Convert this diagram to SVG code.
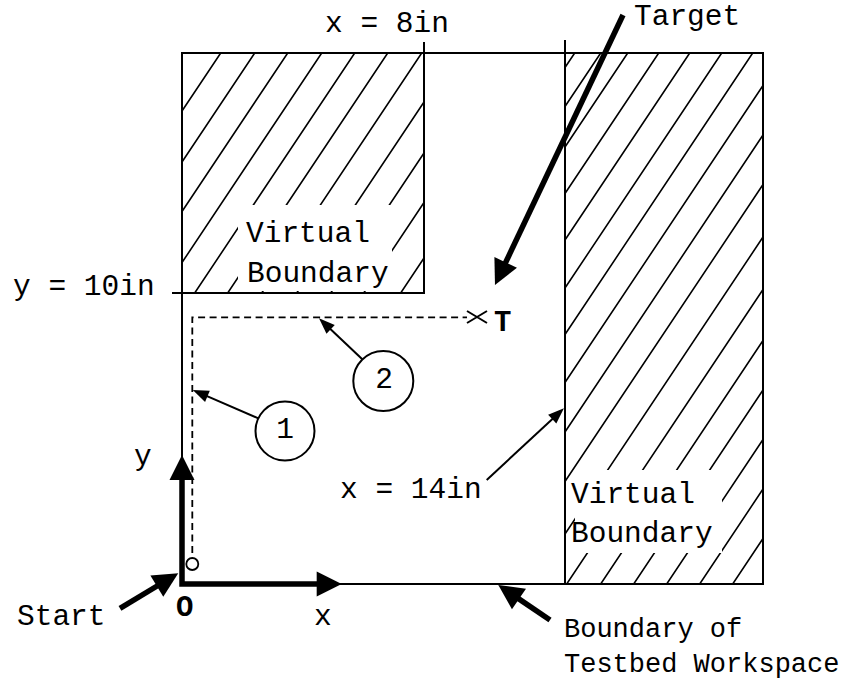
<svg xmlns="http://www.w3.org/2000/svg" width="851" height="681" viewBox="0 0 851 681">
<style>
.t{font-family:"Liberation Mono","Courier New",monospace;font-size:29.5px;fill:#000}
.s{font-size:27px}
.b{font-weight:bold;font-size:29px}
.thin{stroke:#000;stroke-width:2;fill:none}
.hatch{stroke:#000;stroke-width:1.6;fill:none}
.thick{stroke:#000;stroke-width:5.5;fill:none}
.dash{stroke:#000;stroke-width:1.8;fill:none;stroke-dasharray:7 4.5}
</style>
<defs>
<marker id="ahThin" markerUnits="userSpaceOnUse" markerWidth="16" markerHeight="12" refX="8" refY="6" orient="auto" overflow="visible">
<path d="M0,0 L16,6 L0,12 z" fill="#000"/>
</marker>
<marker id="ahThick" markerUnits="userSpaceOnUse" markerWidth="25" markerHeight="25" refX="10" refY="12.5" orient="auto-start-reverse" overflow="visible">
<path d="M0,0 L25,12.5 L0,25 z" fill="#000"/>
</marker>
<clipPath id="clipL"><rect x="182" y="53" width="242" height="240"/></clipPath>
<clipPath id="clipR"><rect x="565" y="53" width="198" height="531"/></clipPath>
</defs>
<rect width="851" height="681" fill="#fff"/>

<g id="virtual-boundary-left">
<g class="hatch" clip-path="url(#clipL)">
<path d="M220.7,53 L60.7,293 M254.7,53 L94.7,293 M287.7,53 L127.7,293 M321.7,53 L161.7,293 M354.7,53 L194.7,293 M387.7,53 L227.7,293 M421.7,53 L261.7,293 M456.7,53 L296.7,293 M490.7,53 L330.7,293 M523.7,53 L363.7,293 M560.7,53 L400.7,293"/>
</g>
<rect x="238" y="205" width="154" height="86" fill="#fff"/>
<rect class="thin" x="182" y="53" width="242" height="240"/>
<text class="t" x="246" y="242">Virtual</text>
<text class="t" x="247" y="282">Boundary</text>
</g>

<g id="virtual-boundary-right">
<g class="hatch" clip-path="url(#clipR)">
<path d="M574.7,53 L220.7,584 M600.7,53 L246.7,584 M627.7,53 L273.7,584 M658.7,53 L304.7,584 M689.7,53 L335.7,584 M721.7,53 L367.7,584 M752.7,53 L398.7,584 M784.7,53 L430.7,584 M817.7,53 L463.7,584 M850.7,53 L496.7,584 M885.7,53 L531.7,584 M920.7,53 L566.7,584 M954.7,53 L600.7,584 M987.7,53 L633.7,584 M1020.7,53 L666.7,584 M1053.7,53 L699.7,584 M1086.7,53 L732.7,584"/>
</g>
<rect x="575" y="470" width="147" height="83" fill="#fff"/>
<rect class="thin" x="565" y="53" width="198" height="531"/>
<text class="t" x="571" y="503">Virtual</text>
<text class="t" x="571" y="542">Boundary</text>
</g>

<g id="workspace">
<rect class="thin" x="182" y="53" width="581" height="531"/>
<line class="thin" x1="424" y1="42" x2="424" y2="293"/>
<line class="thin" x1="172" y1="293" x2="424" y2="293"/>
<line class="thin" x1="565" y1="40" x2="565" y2="584"/>
<text class="t s" x="564" y="637">Boundary of</text>
<text class="t s" x="564" y="672">Testbed Workspace</text>
</g>

<g id="labels">
<text class="t" x="325" y="32">x = 8in</text>
<text class="t" x="634" y="25">Target</text>
<text class="t" x="13" y="295">y = 10in</text>
<text class="t" x="340" y="498">x = 14in</text>
<text class="t" x="134" y="465">y</text>
<text class="t" x="314" y="625">x</text>
<text class="t" x="17" y="625">Start</text>
<text class="t b" x="176" y="616">O</text>
</g>

<g id="path">
<path class="dash" d="M192.3,553 L192.3,317.3 L467,317.3"/>
<circle cx="192.3" cy="564" r="6" fill="none" stroke="#000" stroke-width="1.8"/>
</g>

<g id="target">
<path class="thin" d="M467,311 L487,323 M467,323 L487,311"/>
<text class="t b" x="494" y="331">T</text>
</g>

<g id="step1">
<circle cx="285" cy="431" r="29.5" fill="#fff" stroke="#000" stroke-width="2"/>
<text class="t" x="285" y="438" text-anchor="middle">1</text>
</g>
<g id="step2">
<circle cx="383.3" cy="381" r="30" fill="#fff" stroke="#000" stroke-width="2"/>
<text class="t" x="384" y="388" text-anchor="middle">2</text>
</g>

<g id="connectors">
<path class="thick" d="M182,470 L182,584 L326.7,584" marker-start="url(#ahThick)" marker-end="url(#ahThick)" stroke-linejoin="miter"/>
<line class="thick" x1="623" y1="15" x2="501.4" y2="271.4" marker-end="url(#ahThick)"/>
<line class="thick" x1="120" y1="608.3" x2="165.4" y2="581" marker-end="url(#ahThick)"/>
<line class="thick" x1="550" y1="620" x2="510.7" y2="593.4" marker-end="url(#ahThick)"/>
<line class="thin" x1="258.3" y1="418.3" x2="200.1" y2="393.2" marker-end="url(#ahThin)"/>
<line class="thin" x1="362.3" y1="359.3" x2="324.8" y2="323.8" marker-end="url(#ahThin)"/>
<line class="thin" x1="486.7" y1="480" x2="558.1" y2="413.7" marker-end="url(#ahThin)"/>
</g>
</svg>
